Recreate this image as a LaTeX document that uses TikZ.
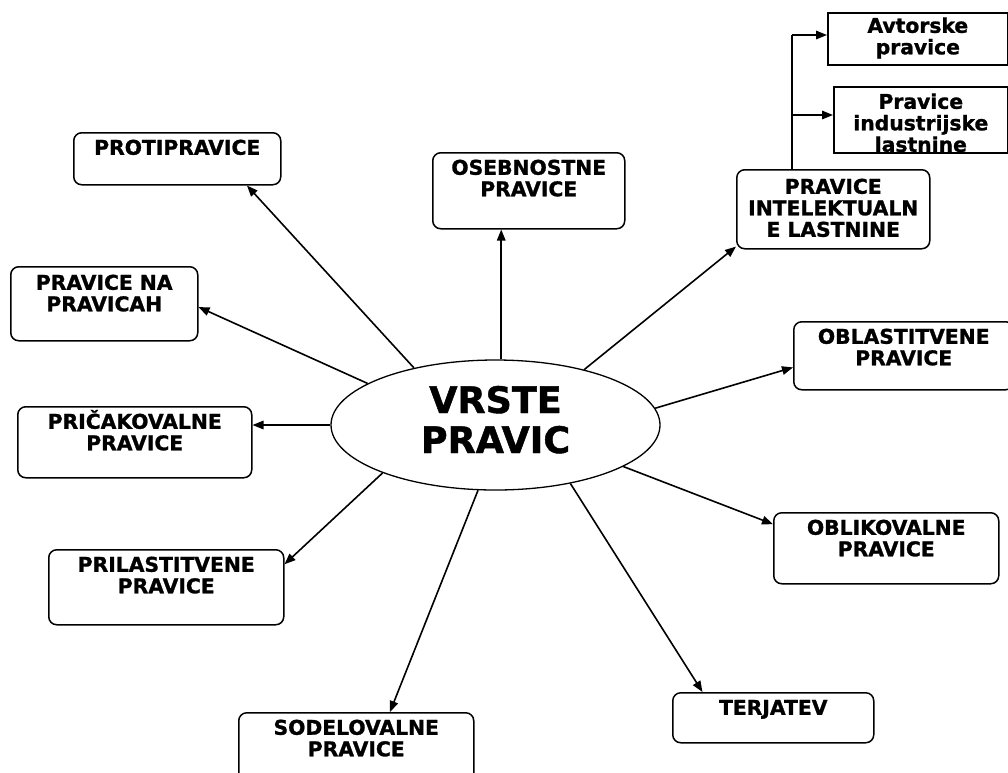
\documentclass[tikz,border=0pt]{standalone}
\usepackage{fontspec}
\setmainfont{DejaVu Sans}[BoldFeatures={FakeBold=1.2}]
\usetikzlibrary{
  positioning,
  calc,
  arrows.meta,
  shapes.geometric
}

\begin{document}
\begin{tikzpicture}[
    x=1pt, y=-1pt,
    rbox/.style={draw, rounded corners=8pt, line width=1.5pt, anchor=north west, align=center, inner xsep=2pt, inner ysep=0pt, font=\bfseries\fontsize{20.3}{21.5}\selectfont},
    sbox/.style={rbox, sharp corners, line width=1.6pt},
    hub/.style={ellipse, draw, line width=1.3pt, minimum width=329pt, minimum height=130pt, inner sep=0pt, align=center, text height=66pt, text depth=10pt, font=\bfseries\fontsize{36.5}{40}\selectfont},
    arrow/.style={-{Triangle[length=11pt, width=8.5pt]}, line width=1.6pt}
  ]
  \useasboundingbox (0,0) rectangle (1008,772);
  \clip (0,0) rectangle (1008,772);

  % Nodes
  \node[hub] (vrste) at (495.5,425) {VRSTE\\PRAVIC};
  \node[rbox, minimum width=207pt, text height=22pt, text depth=30pt] (prot) at (73,132) {PROTIPRAVICE};
  \node[rbox, minimum width=192pt, text height=43.5pt, text depth=32.5pt] (oseb) at (432,152) {OSEBNOSTNE\\PRAVICE};
  \node[rbox, minimum width=193pt, text height=67pt, text depth=12pt] (intel) at (736,169) {PRAVICE\\INTELEKTUALN\\E LASTNINE};
  \node[sbox, minimum width=180pt, text height=41.5pt, text depth=10.5pt] (avt) at (827,12) {Avtorske\\pravice};
  \node[sbox, minimum width=174pt, text height=65pt, text depth=1pt] (ind) at (833,86) {Pravice\\industrijske\\lastnine};
  \node[rbox, minimum width=187pt, text height=44.5pt, text depth=29.5pt] (pnp) at (10,266) {PRAVICE NA\\PRAVICAH};
  \node[rbox, minimum width=234pt, text height=43.5pt, text depth=27.5pt] (pric) at (17,406) {PRIČAKOVALNE\\PRAVICE};
  \node[rbox, minimum width=220pt, text height=43.5pt, text depth=24.5pt] (oblast) at (793,321) {OBLASTITVENE\\PRAVICE};
  \node[rbox, minimum width=225pt, text height=43.5pt, text depth=27.5pt] (oblik) at (773,512) {OBLIKOVALNE\\PRAVICE};
  \node[rbox, minimum width=235pt, text height=43.5pt, text depth=31.5pt] (prilast) at (48,549) {PRILASTITVENE\\PRAVICE};
  \node[rbox, minimum width=201pt, text height=22pt, text depth=28pt] (terj) at (672,692) {TERJATEV};
  \node[rbox, minimum width=235pt, text height=43.5pt, text depth=32.5pt] (sodel) at (238,712) {SODELOVALNE\\PRAVICE};

  % Arrows
  \draw[arrow] (vrste.145.7) -- (prot.-21.65);
  \draw[arrow] (vrste.85.2) -- (vrste.85.2 |- oseb.south);
  \draw[arrow] (vrste.32.6) -- (intel.-159.3);
  \draw[arrow] (vrste.162.2) -- (pnp.-2.45);
  \draw[arrow] (vrste.180) -- (vrste.180 -| pric.east);
  \draw[arrow] (vrste.6.6) -- (oblast.-174.3);
  \draw[arrow] (vrste.-18.6) -- (oblik.168.2);
  \draw[arrow] (vrste.-157.8) -- (prilast.11.3);
  \draw[arrow] (vrste.-105.1) -- (sodel.49.5);
  \draw[arrow] (vrste.-38.1) -- (terj.160.7);

  % Split to sub-rights
  \coordinate (s1) at (792,35);
  \coordinate (s2) at (792,115);
  \draw[line width=1.6pt] (s1 |- intel.north) -- (s1);
  \draw[arrow] (s1) -- (s1 -| avt.west);
  \draw[arrow] (s2) -- (s2 -| ind.west);
\end{tikzpicture}
\end{document}
